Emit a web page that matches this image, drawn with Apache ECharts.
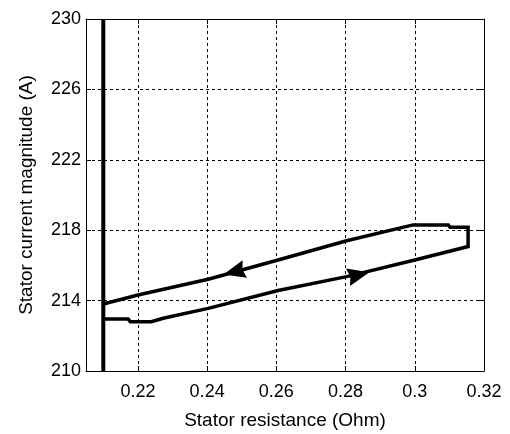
<!DOCTYPE html>
<html>
<head>
<meta charset="utf-8">
<script src="https://cdn.jsdelivr.net/npm/echarts@6/dist/echarts.min.js"></script>
<style>
  html, body { margin: 0; padding: 0; background: #fff; }
  #chart { width: 510px; height: 434px; }
</style>
</head>
<body>
<div id="chart"></div>
<script>
// tick positions
const xTicks = [0.22, 0.24, 0.26, 0.28, 0.30, 0.32];
const yTicks = [210, 214, 218, 222, 226, 230];

// loop: resistance estimate vs stator current (lower branch right, upper branch back left)
const resistance = [0.21, 0.2172, 0.2178, 0.2239, 0.2273, 0.2403, 0.2605, 0.2803, 0.3, 0.3154,
                    0.3154, 0.3102, 0.3097, 0.2995, 0.2803, 0.2605, 0.2403, 0.22, 0.21];
const current = [212.96, 212.96, 212.8, 212.8, 213.0, 213.56, 214.57, 215.36, 216.31, 217.07,
                 218.17, 218.17, 218.3, 218.3, 217.4, 216.31, 215.21, 214.32, 213.81];

// true resistance marker (vertical line)
const trueR = [0.21, 0.21];
const trueI = [210, 230];

// direction arrows
const arrowX = [0.2478, 0.2838];
const arrowY = [215.64, 215.47];
const arrowRot = [104, -77];

const font = 'Liberation Sans, Arial, sans-serif';
const arrowPath = 'path://M0,-10 L8,8 L0,6 L-8,8 Z';

const chart = echarts.init(document.getElementById('chart'), null, { renderer: 'canvas' });

const loopData = resistance.map((r, i) => [r, current[i]]);
const lineData = trueR.map((r, i) => [r, trueI[i]]);
const arrowData = arrowX.map((x, i) => ({ value: [x, arrowY[i]], symbolRotate: arrowRot[i] }));

const fmtX = v => String(+(+v).toFixed(2));

chart.setOption({
  animation: false,
  backgroundColor: '#fff',
  grid: { left: 86, right: 26, top: 19, bottom: 63, show: false, outerBoundsMode: 'none', containLabel: false },
  xAxis: [{
    type: 'value', min: 0.205, max: 0.32,
    name: 'Stator resistance (Ohm)', nameLocation: 'middle', nameGap: 40,
    nameTextStyle: { color: '#000', fontSize: 19, fontFamily: font },
    axisLine: { show: true, onZero: false, lineStyle: { color: '#000', width: 1 } },
    axisTick: { show: true, inside: true, length: 5, customValues: xTicks, lineStyle: { color: '#000' } },
    axisLabel: { customValues: xTicks, formatter: fmtX, color: '#000', fontSize: 18, fontFamily: font, margin: 12 },
    splitLine: { show: true, lineStyle: { color: '#000', type: [3, 3], width: 1 } }
  }, {
    type: 'value', min: 0.205, max: 0.32, position: 'top',
    axisLine: { show: true, onZero: false, lineStyle: { color: '#000', width: 1 } },
    axisTick: { show: true, inside: true, length: 5, customValues: xTicks, lineStyle: { color: '#000' } },
    axisLabel: { show: false },
    splitLine: { show: false }
  }],
  yAxis: [{
    type: 'value', min: 210, max: 230,
    name: 'Stator current magnitude (A)', nameLocation: 'middle', nameGap: 50,
    nameTextStyle: { color: '#000', fontSize: 19, fontFamily: font },
    axisLine: { show: true, onZero: false, lineStyle: { color: '#000', width: 1 } },
    axisTick: { show: true, inside: true, length: 5, customValues: yTicks, lineStyle: { color: '#000' } },
    axisLabel: { customValues: yTicks, color: '#000', fontSize: 18, fontFamily: font, margin: 5 },
    splitLine: { show: true, lineStyle: { color: '#000', type: [3, 3], width: 1 } }
  }, {
    type: 'value', min: 210, max: 230, position: 'right',
    axisLine: { show: true, onZero: false, lineStyle: { color: '#000', width: 1 } },
    axisTick: { show: true, inside: true, length: 5, customValues: yTicks, lineStyle: { color: '#000' } },
    axisLabel: { show: false },
    splitLine: { show: false }
  }],
  series: [{
    type: 'line', data: lineData, symbol: 'none',
    lineStyle: { color: '#000', width: 4 }
  }, {
    type: 'line', data: loopData, symbol: 'none',
    lineStyle: { color: '#000', width: 3.5, join: 'miter' }
  }, {
    type: 'scatter', data: arrowData, symbol: arrowPath, symbolSize: [18, 22],
    itemStyle: { color: '#000', opacity: 1 }
  }]
});
</script>
</body>
</html>
